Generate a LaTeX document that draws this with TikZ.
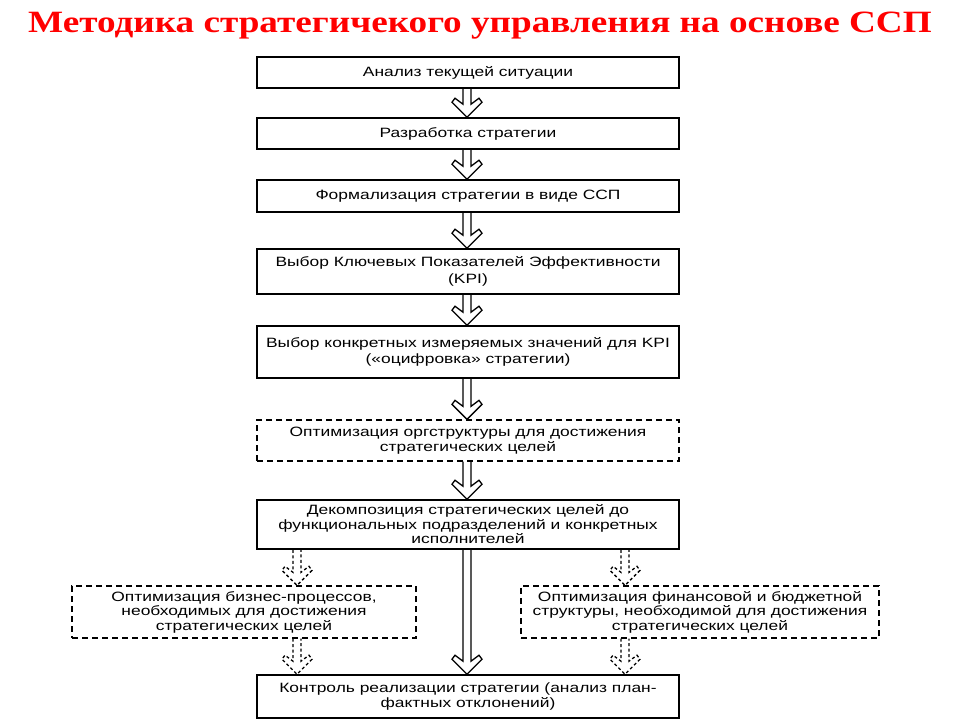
\documentclass[tikz,border=0pt]{standalone}
\usepackage{fontspec}
\setmainfont{Liberation Sans}[FakeStretch=1.29]
\newfontfamily\titlefont{Liberation Serif}[FakeStretch=1.2]
\usetikzlibrary{calc}
\tikzset{
  box/.style={draw=black, line width=1.6pt, minimum width=422pt, align=center, inner sep=1pt,
    font=\fontsize{13.5}{14.5}\selectfont},
  dbox/.style={box, dash pattern=on 6pt off 4pt, line width=1.3pt},
  harr/.style={draw=black, line width=1.3pt, line join=miter},
  darr/.style={harr, dash pattern=on 3pt off 2.5pt},
}
\newcommand\harrow[4][harr]{%
  \draw[#1] let \p1=(#3.south), \p2=(#4.north) in
    ({#2pt-4pt},\y1) -- ({#2pt-4pt},\y2+13pt) -- ({#2pt-12pt},\y2+19pt) -- ({#2pt-15pt},\y2+15pt)
    -- ({#2pt},\y2) -- ({#2pt+15pt},\y2+15pt) -- ({#2pt+12pt},\y2+19pt) -- ({#2pt+4pt},\y2+13pt)
    -- ({#2pt+4pt},\y1);}
\begin{document}
\begin{tikzpicture}[x=1pt,y=-1pt]
\useasboundingbox (0,0) rectangle (960,720);
\node[text=red, font=\titlefont\bfseries\fontsize{31}{34}\selectfont] (title) at (480,26) {Методика стратегичекого управления на основе ССП};
\node[box, minimum height=31pt] (b1) at (468,72.5) {Анализ текущей ситуации};
\node[box, minimum height=31pt] (b2) at (468,133.5) {Разработка стратегии};
\node[box, minimum height=32pt] (b3) at (468,196) {Формализация стратегии в виде ССП};
\node[box, minimum height=45pt, font=\fontsize{13.5}{17.5}\selectfont] (b4) at (468,271.5) {Выбор Ключевых Показателей Эффективности\\(KPI)};
\node[box, minimum height=52pt, font=\fontsize{13.5}{16}\selectfont] (b5) at (468,352) {Выбор конкретных измеряемых значений для KPI\\(«оцифровка» стратегии)};
\node[dbox, minimum height=41pt] (b6) at (468,440.5) {Оптимизация оргструктуры для достижения\\стратегических целей};
\node[box, minimum height=49pt] (b7) at (468,524.5) {Декомпозиция стратегических целей до\\функциональных подразделений и конкретных\\исполнителей};
\node[dbox, minimum width=344pt, minimum height=52pt] (b8) at (244,612) {Оптимизация бизнес-процессов,\\необходимых для достижения\\стратегических целей};
\node[dbox, minimum width=358pt, minimum height=52pt] (b9) at (700,612) {Оптимизация финансовой и бюджетной\\структуры, необходимой для достижения\\стратегических целей};
\node[box, minimum height=43pt] (b10) at (468,696.5) {Контроль реализации стратегии (анализ план-\\фактных отклонений)};
\harrow{467}{b1}{b2}
\harrow{467}{b2}{b3}
\harrow{467}{b3}{b4}
\harrow{467}{b4}{b5}
\harrow{467}{b5}{b6}
\harrow{467}{b6}{b7}
\harrow{467}{b7}{b10}
\harrow[darr]{297}{b7}{b8}
\harrow[darr]{297}{b8}{b10}
\harrow[darr]{625}{b7}{b9}
\harrow[darr]{625}{b9}{b10}
\end{tikzpicture}
\end{document}
